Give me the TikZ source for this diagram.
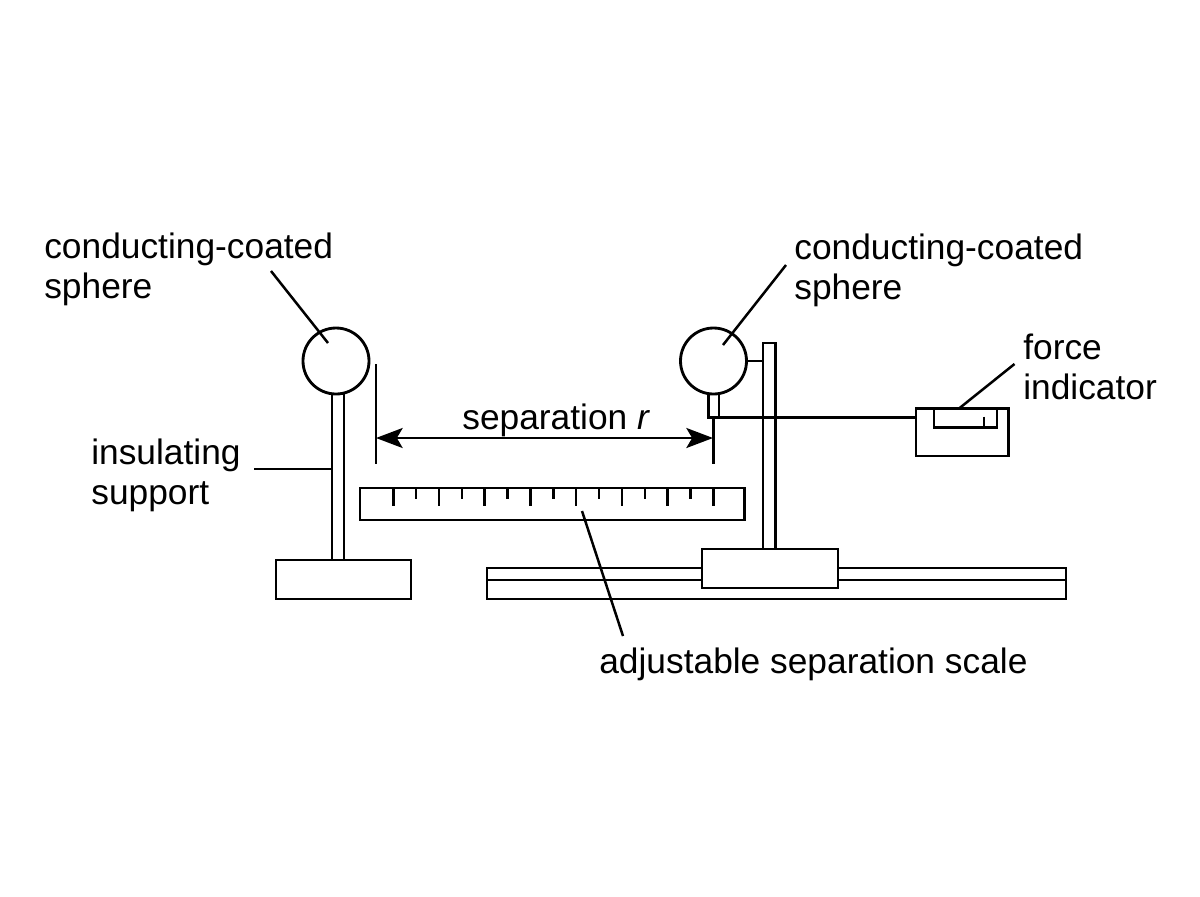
\documentclass[tikz,border=0pt]{standalone}
\usepackage{fontspec}
\setmainfont{Liberation Sans}
\usetikzlibrary{arrows.meta}
\tikzset{
	part/.style={line width=1.7pt,line join=miter},
	thinpart/.style={line width=1.5pt},
	leader/.style={line width=1.5pt},
	labeltext/.style={anchor=north west,inner sep=0pt,align=left,font=\fontsize{21.2}{24}\selectfont},
}
\begin{document}
\begin{tikzpicture}[x=0.6pt,y=0.6pt,yscale=-1,xscale=1]
	\useasboundingbox (0,0) rectangle (1200,896);
	%Shape: Circle
	\draw [part] (336,361) circle [radius=33];
	\draw [part] (713.5,361) circle [radius=33];
	%Shape: Left support
	\draw [part] (332,394) -- (332,560) (344,394) -- (344,560);
	\draw [part] (276,560) rectangle (411,599);
	%Shape: Right support
	\draw [part] (763,549) -- (763,343) -- (775.5,343) -- (775.5,549);
	\draw [thinpart] (746.5,361) -- (763,361);
	%Shape: Rail
	\draw [part] (702,568) -- (487,568) -- (487,599) -- (1066,599) -- (1066,568) -- (838,568);
	\draw [part] (487,580) -- (702,580) (838,580) -- (1066,580);
	\draw [part] (702,549) rectangle (838,588);
	%Shape: Plates
	\draw [part] (708.5,394) -- (708.5,417.5) -- (719,417.5) -- (719,394);
	\draw [thinpart] (376,364) -- (376,464);
	\draw [thinpart] (713.5,417.5) -- (713.5,464);
	\draw [thinpart] (719,417.5) -- (916,417.5);
	%Shape: Force indicator
	\draw [part] (916,408.5) rectangle (1008.5,456);
	\draw [part] (934,408.5) -- (934,427.5) -- (997,427.5) -- (997,408.5);
	\draw [thinpart] (984,416.5) -- (984,427.5);
	%Shape: Scale
	\draw [part] (360,488) rectangle (744.5,520);
	\foreach \i in {0,...,7}
		\draw [thinpart] ({393.3+45.72*\i},488) -- ++(0,18);
	\foreach \i in {0,...,6}
		\draw [thinpart] ({416.2+45.72*\i},488) -- ++(0,11);

	% Text Node
	\node (leftsphere) at (44,232.5) [labeltext] {conducting-coated\\sphere};
	% Text Node
	\node (rightsphere) at (794,233.5) [labeltext] {conducting-coated\\sphere};
	% Text Node
	\node (force) at (1023,333.5) [labeltext] {force\\indicator};
	% Text Node
	\node (insulating) at (91,438.5) [labeltext] {insulating\\support};
	% Text Node
	\node (separation) at (462,403.5) [labeltext] {separation \textit{r}};
	% Text Node
	\node (adjustable) at (599,647.5) [labeltext] {adjustable separation scale};

	% Leader ends
	\coordinate (leftsphereA) at (271,271);
	\coordinate (leftsphereB) at (328,343);
	\coordinate (rightsphereA) at (786,265);
	\coordinate (rightsphereB) at (723,345);
	\coordinate (forceA) at (1014.5,364);
	\coordinate (forceB) at (959,408.5);
	\coordinate (insulatingA) at (254,469);
	\coordinate (insulatingB) at (332,469);
	\coordinate (adjustableA) at (623,636);
	\coordinate (adjustableB) at (582,511);
	\coordinate (gapA) at (376,438);
	\coordinate (gapB) at (713,438);

	%Straight Lines
	\draw [leader] (leftsphereA) -- (leftsphereB);
	\draw [leader] (rightsphereA) -- (rightsphereB);
	\draw [leader] (forceA) -- (forceB);
	\draw [leader] (insulatingA) -- (insulatingB);
	\draw [leader] (adjustableA) -- (adjustableB);
	\draw [leader,{Stealth[length=16pt,width=12pt,inset=3.5pt]}-{Stealth[length=16pt,width=12pt,inset=3.5pt]}] (gapA) -- (gapB);
\end{tikzpicture}
\end{document}
